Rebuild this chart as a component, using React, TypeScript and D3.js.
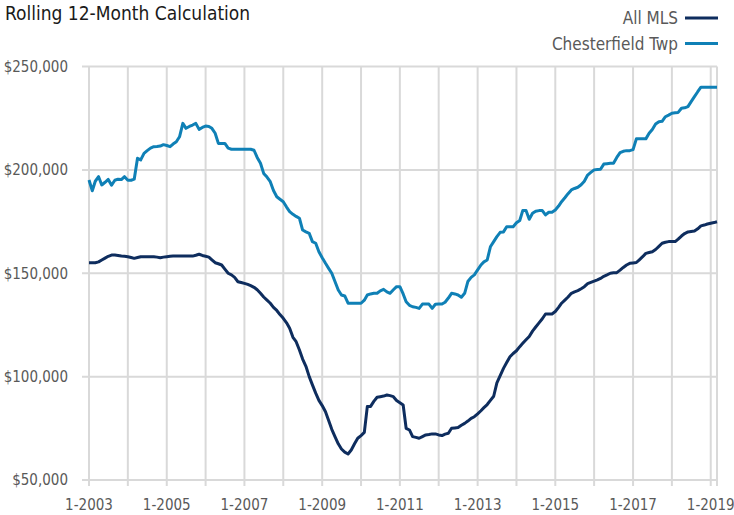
import React from "react";
import * as d3 from "d3";

const TITLE = "Rolling 12-Month Calculation";
const SERIES_NAMES = ["All MLS", "Chesterfield Twp"];
const START_YEAR = 2003;
const Y_TICKS = [50000, 100000, 150000, 200000, 250000];
const X_LABEL_YEARS = [2003, 2005, 2007, 2009, 2011, 2013, 2015, 2017, 2019];

// Monthly values (thousands of $), Jan 2003 .. Mar 2019
const allMls = [
  155.1, 155.1, 155.1, 155.5, 156.4, 157.3, 158.2, 158.8, 158.8, 158.6, 158.3, 158.2,
  158, 157.6, 157.2, 157.6, 158, 158, 158, 158, 158, 157.8, 157.5, 157.8,
  158, 158.2, 158.3, 158.3, 158.3, 158.3, 158.3, 158.3, 158.3, 158.7, 159.2, 158.6,
  158.2, 157.8, 156.5, 155.1, 154.6, 154, 152, 150, 149.2, 148, 145.9, 145.5,
  145.1, 144.6, 144, 143.2, 142, 140.3, 138.5, 137, 135.5, 133.5, 132, 130,
  128.2, 126, 123.4, 119, 116.9, 112.9, 108.5, 105, 100, 96, 92, 88.5,
  86, 83, 79, 74.5, 71, 67.5, 65, 63.5, 62.6, 64.5, 67.5, 70.2,
  71.5, 73, 85.5, 85.6, 88, 90, 90.3, 90.6, 91.1, 90.8, 90.3, 88.5,
  87.4, 86.3, 75, 74.2, 71, 70.6, 70.2, 71, 71.8, 72, 72.3, 72.3,
  71.8, 71.5, 72.2, 72.6, 75, 75.2, 75.4, 76.5, 77.4, 78.5, 79.8, 80.6,
  82, 83.5, 85, 86.5, 88.5, 90.5, 97, 100.5, 104, 106.8, 109.6, 111.2,
  112.5, 114.5, 116.1, 117.8, 119.4, 122, 124, 126, 128, 130.3, 130.3, 130.3,
  131.5, 133.5, 135.5, 137, 138.5, 140.3, 141, 141.6, 142.5, 143.5, 145, 145.6,
  146.2, 146.8, 147.5, 148.5, 149.2, 150, 150.2, 150.3, 151.5, 152.8, 154, 154.8,
  155, 155.2, 156.5, 158, 159.6, 160, 160.4, 161.5, 163, 164.5, 165, 165.3,
  165.3, 165.3, 166.5, 168, 169.2, 170, 170.2, 170.4, 171.5, 172.9, 173.3, 173.8,
  174.2, 174.5, 174.9,
];

const chesterfield = [
  195.1, 189.9, 194.5, 196.7, 192.7, 194, 195.4, 192.6, 195, 195.5, 195.3, 196.7,
  195, 195, 195.5, 205.6, 204.8, 208, 209.3, 210.5, 211.2, 211.3, 211.5, 212.2,
  211.8, 211.2, 212.5, 213.6, 216, 222.5, 220.1, 221, 221.7, 222.5, 219.6, 220.5,
  221.2, 221, 220.1, 217.7, 212.8, 212.8, 212.8, 210.5, 210, 210, 210, 210,
  210, 210, 210, 209.5, 206, 203.2, 198.3, 196.5, 194.3, 190, 187, 185.8,
  184.6, 182, 179.8, 178.5, 177.5, 176.6, 170.9, 170, 169.3, 165.3, 164.5, 160.4,
  157.5, 154.8, 152.5, 150, 146, 141.9, 139.5, 139, 135.5, 135.5, 135.5, 135.5,
  135.5, 137, 139.5, 140, 140.3, 140.3, 141.5, 142.2, 141, 140.3, 142, 143.5,
  143.5, 140, 136.2, 134.5, 133.8, 133.5, 133, 135.1, 135.1, 135.1, 133, 135,
  135.1, 135.1, 136, 138, 140.3, 140, 139.5, 138.4, 140.3, 146, 148, 149.2,
  151.6, 154, 155.5, 156.4, 162.8, 165.3, 167.7, 169.8, 170, 172.5, 172.5, 172.5,
  174.4, 175.5, 180.3, 180.3, 176.1, 179, 180, 180.3, 180.3, 178.2, 179.5, 179.5,
  180.6, 182.5, 184.6, 186.5, 188.5, 190.3, 191, 191.6, 192.8, 194.5, 197.5, 198.8,
  200, 200.2, 200.3, 202.8, 203, 203.2, 203.2, 206, 208.3, 209, 209.3, 209.3,
  209.8, 215, 215, 215, 215, 217.7, 219.5, 222.2, 223.3, 223.5, 225.7, 226.5,
  227.4, 227.6, 227.8, 229.8, 230, 230.6, 233, 235.4, 237.8, 240, 240, 240,
  240, 240, 240,
];

const COLORS = ["#0e2d5e", "#0f80b6"];
const FONT = "'Liberation Sans Narrow', 'DejaVu Sans Condensed', 'Roboto', sans-serif";

export default function App() {
  const W = 734;
  const H = 515;
  const left = 89;
  const right = 717;
  const top = 66.5;
  const bottom = 480;

  const monthDate = (i: number) => new Date(START_YEAR, i, 1);
  const n = allMls.length;

  const x = d3.scaleTime().domain([monthDate(0), monthDate(n - 1)]).range([left, right]);
  const y = d3.scaleLinear().domain([50000, 250000]).range([bottom, top]);

  const line = d3
    .line<number>()
    .x((_, i) => x(monthDate(i)))
    .y((d) => y(d * 1000));

  const yearTicks = d3.range(START_YEAR, 2020).map((yr) => new Date(yr, 0, 1));
  const fmt = d3.format("$,.0f");
  const grid = "#d9d9d9";

  return (
    <svg width={W} height={H} style={{ display: "block", position: "absolute", left: 0, top: 0 }} fontFamily={FONT}>
      <rect x={0} y={0} width={W} height={H} fill="#fff" />
      {/* horizontal gridlines */}
      {Y_TICKS.map((t) => (
        <line key={"h" + t} x1={left - 7} x2={right} y1={y(t)} y2={y(t)} stroke={grid} strokeWidth={2} />
      ))}
      {/* vertical gridlines */}
      {yearTicks.map((d) => (
        <line key={"v" + d.getFullYear()} x1={x(d)} x2={x(d)} y1={top} y2={bottom + 6} stroke={grid} strokeWidth={2} />
      ))}
      <line x1={right} x2={right} y1={top} y2={bottom + 6} stroke={grid} strokeWidth={2} />
      {/* y labels */}
      {Y_TICKS.map((t) => (
        <text key={"yl" + t} x={68} y={y(t)} dy="0.35em" textAnchor="end" fontSize={15} fill="#595959">
          {fmt(t)}
        </text>
      ))}
      {/* x labels */}
      {X_LABEL_YEARS.map((yr) => (
        <text key={"xl" + yr} x={Math.min(x(new Date(yr, 0, 1)), 712)} y={505} dy="0.35em" textAnchor="middle" fontSize={15} fill="#595959">
          {"1-" + yr}
        </text>
      ))}
      {/* series */}
      <path d={line(allMls) || ""} fill="none" stroke={COLORS[0]} strokeWidth={3} strokeLinejoin="round" />
      <path d={line(chesterfield) || ""} fill="none" stroke={COLORS[1]} strokeWidth={3} strokeLinejoin="round" />
      {/* title */}
      <text x={5} y={13} dy="0.35em" fontSize={19} fill="#1a1a1a">
        {TITLE}
      </text>
      {/* legend */}
      {SERIES_NAMES.map((name, i) => (
        <g key={name}>
          <text x={678} y={18 + i * 26} dy="0.35em" textAnchor="end" fontSize={17} fill="#595959">
            {name}
          </text>
          <line x1={685} x2={718} y1={18 + i * 25.5} y2={18 + i * 25.5} stroke={COLORS[i]} strokeWidth={3} />
        </g>
      ))}
    </svg>
  );
}
